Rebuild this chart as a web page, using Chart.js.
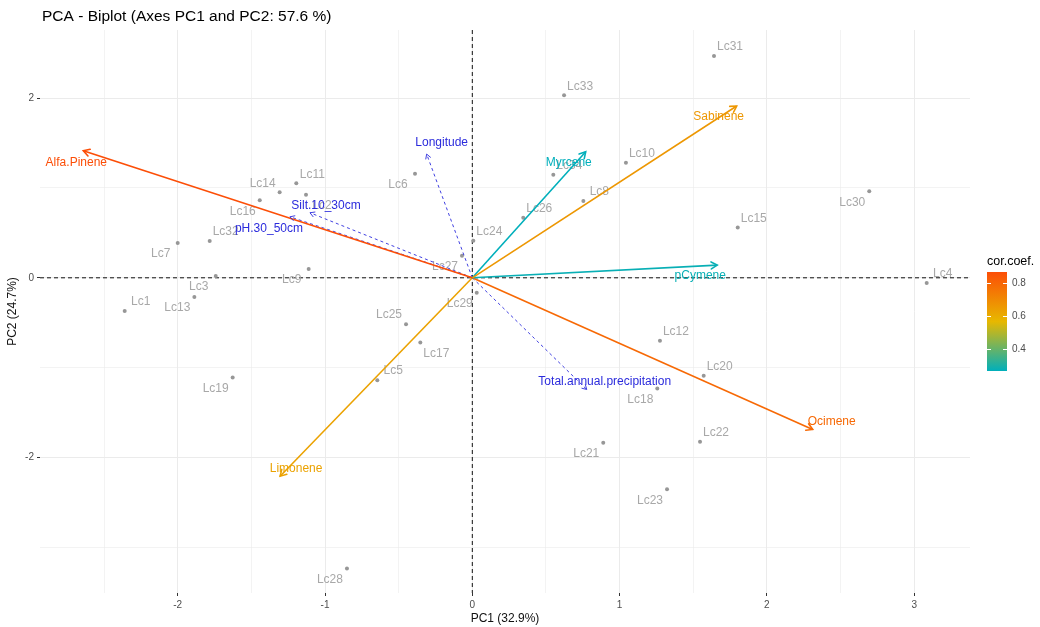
<!DOCTYPE html>
<html>
<head>
<meta charset="utf-8">
<title>PCA - Biplot</title>
<script src="https://cdn.jsdelivr.net/npm/chart.js@4.4.0/dist/chart.umd.min.js"></script>
<style>
  html, body { margin: 0; padding: 0; background: #fff; }
  #wrap { width: 1040px; height: 627px; }
</style>
</head>
<body>
<div id="wrap"><canvas id="biplot" width="1040" height="627"></canvas></div>
<script>
// individuals (PC1, PC2)
const individuals = ['Lc1','Lc2','Lc3','Lc4','Lc5','Lc6','Lc7','Lc8','Lc9','Lc10','Lc11','Lc12',
  'Lc13','Lc14','Lc15','Lc16','Lc17','Lc18','Lc19','Lc20','Lc21','Lc22','Lc23','Lc24','Lc25',
  'Lc26','Lc27','Lc28','Lc29','Lc30','Lc31','Lc32','Lc33','Lc34'];
const indPC1 = [-2.36, -1.129, -1.742, 3.085, -0.645, -0.389, -2.0, 0.754, -1.111, 1.043, -1.195, 1.274,
  -1.887, -1.308, 1.802, -1.443, -0.353, 1.256, -1.627, 1.571, 0.889, 1.546, 1.322, 0.007, -0.45,
  0.346, -0.07, -0.851, 0.03, 2.695, 1.641, -1.783, 0.623, 0.55];
const indPC2 = [-0.37, 0.924, 0.019, -0.059, -1.139, 1.158, 0.386, 0.854, 0.097, 1.281, 1.051, -0.701,
  -0.215, 0.951, 0.561, 0.862, -0.72, -1.232, -1.109, -1.091, -1.837, -1.826, -2.353, 0.412, -0.516,
  0.668, 0.245, -3.236, -0.167, 0.962, 2.469, 0.409, 2.031, 1.147];
const indLabelSide = ['UR','LR','LL','UR','UR','LL','LL','UR','LL','UR','UR','UR',
  'LL','UL','UR','LL','LR','LL','LL','UR','LL','UR','LL','UR','UL',
  'UR','LL','LL','LL','LL','UR','UR','UR','UR'];

// active variables
const varNames = ['Alfa.Pinene', 'Sabinene', 'Myrcene', 'pCymene', 'Ocimene', 'Limonene'];
const varPC1 = [-2.641, 1.795, 0.77, 1.663, 2.311, -1.305];
const varPC2 = [1.414, 1.912, 1.403, 0.141, -1.688, -2.208];
const varCor = [0.866, 0.66, 0.27, 0.28, 0.79, 0.63];

// supplementary variables
const supNames = ['Longitude', 'Silt.10_30cm', 'pH.30_50cm', 'Total.annual.precipitation'];
const supPC1 = [-0.31, -1.102, -1.238, 0.777];
const supPC2 = [1.377, 0.724, 0.679, -1.243];

const xTickLabels = [-2, -1, 0, 1, 2, 3];
const yTickLabels = [-2, 0, 2];
const xGridValues = [-2.5, -2, -1.5, -1, -0.5, 0, 0.5, 1, 1.5, 2, 2.5, 3];
const yGridValues = [-3, -2, -1, 0, 1, 2];
const corBreaks = [0.4, 0.6, 0.8];
const corRange = [0.27, 0.866];
const gradientCols = ['#00AFBB', '#E7B800', '#FC4E07'];

const FONT = '"Liberation Sans", Arial, sans-serif';
const sideNudge = { UR: [16, -9], LL: [-17, 11], UL: [-17, -9], LR: [16, 11] };
const varLabelNudge = [[-7, 12], [-18, 11], [-17, 11], [-17, 11], [19, -8], [16, -8]];
const supLabelNudge = [[15, -11], [16, -7], [-21, 12], [18, -8]];
const supColor = '#2b2bdc';

function hexToRgb(h) {
  return [parseInt(h.slice(1, 3), 16), parseInt(h.slice(3, 5), 16), parseInt(h.slice(5, 7), 16)];
}

function corColor(v) {
  let t = (v - corRange[0]) / (corRange[1] - corRange[0]);
  t = Math.max(0, Math.min(1, t));
  const seg = t < 0.5 ? 0 : 1;
  const lt = seg === 0 ? t / 0.5 : (t - 0.5) / 0.5;
  const a = hexToRgb(gradientCols[seg]);
  const b = hexToRgb(gradientCols[seg + 1]);
  const c = a.map((ch, k) => Math.round(ch + (b[k] - ch) * lt));
  return `rgb(${c[0]},${c[1]},${c[2]})`;
}

function drawHead(ctx, x1, y1, x2, y2, len) {
  const ang = Math.atan2(y2 - y1, x2 - x1);
  ctx.beginPath();
  ctx.moveTo(x2 - len * Math.cos(ang - Math.PI / 6), y2 - len * Math.sin(ang - Math.PI / 6));
  ctx.lineTo(x2, y2);
  ctx.lineTo(x2 - len * Math.cos(ang + Math.PI / 6), y2 - len * Math.sin(ang + Math.PI / 6));
  ctx.stroke();
}

const datasets = [];
datasets.push({
  label: 'individuals',
  data: individuals.map((n, i) => ({ x: indPC1[i], y: indPC2[i] })),
  pointRadius: 2,
  pointBackgroundColor: '#979797',
  pointBorderWidth: 0,
  showLine: false,
  order: 10
});
varNames.forEach((n, i) => {
  datasets.push({
    label: n,
    data: [{ x: 0, y: 0 }, { x: varPC1[i], y: varPC2[i] }],
    showLine: true,
    borderColor: corColor(varCor[i]),
    borderWidth: 1.6,
    pointRadius: 0,
    order: 1
  });
});
supNames.forEach((n, i) => {
  datasets.push({
    label: n,
    data: [{ x: 0, y: 0 }, { x: supPC1[i], y: supPC2[i] }],
    showLine: true,
    borderColor: supColor,
    borderWidth: 0.9,
    borderDash: [3, 3],
    pointRadius: 0,
    order: 2
  });
});

const biplotDecor = {
  id: 'biplotDecor',
  beforeDatasetsDraw(chart) {
    const { ctx, chartArea: a, scales: { x, y } } = chart;
    ctx.save();
    const x0 = x.getPixelForValue(0), y0 = y.getPixelForValue(0);
    ctx.strokeStyle = '#111';
    ctx.lineWidth = 1;
    ctx.setLineDash([4, 3]);
    ctx.beginPath();
    ctx.moveTo(a.left, y0); ctx.lineTo(a.right, y0);
    ctx.moveTo(x0, a.top); ctx.lineTo(x0, a.bottom);
    ctx.stroke();
    ctx.setLineDash([]);

    ctx.font = '12px ' + FONT;
    ctx.fillStyle = '#a8a8a8';
    ctx.textAlign = 'center';
    ctx.textBaseline = 'middle';
    individuals.forEach((name, i) => {
      const n = sideNudge[indLabelSide[i]];
      ctx.fillText(name, x.getPixelForValue(indPC1[i]) + n[0], y.getPixelForValue(indPC2[i]) + n[1]);
    });
    ctx.restore();
  },
  afterDatasetsDraw(chart) {
    const { ctx, scales: { x, y } } = chart;
    const x0 = x.getPixelForValue(0), y0 = y.getPixelForValue(0);
    ctx.save();
    ctx.lineCap = 'round';
    ctx.textAlign = 'center';
    ctx.textBaseline = 'middle';
    ctx.font = '12px ' + FONT;

    supNames.forEach((n, i) => {
      const px = x.getPixelForValue(supPC1[i]), py = y.getPixelForValue(supPC2[i]);
      ctx.strokeStyle = supColor;
      ctx.lineWidth = 0.9;
      drawHead(ctx, x0, y0, px, py, 5);
      ctx.fillStyle = supColor;
      ctx.fillText(n, px + supLabelNudge[i][0], py + supLabelNudge[i][1]);
    });

    varNames.forEach((n, i) => {
      const px = x.getPixelForValue(varPC1[i]), py = y.getPixelForValue(varPC2[i]);
      const col = corColor(varCor[i]);
      ctx.strokeStyle = col;
      ctx.lineWidth = 1.6;
      drawHead(ctx, x0, y0, px, py, 7);
      ctx.fillStyle = col;
      ctx.fillText(n, px + varLabelNudge[i][0], py + varLabelNudge[i][1]);
    });
    ctx.restore();
  },
  afterDraw(chart) {
    const ctx = chart.ctx;
    ctx.save();
    // title
    ctx.font = '15.5px ' + FONT;
    ctx.fillStyle = '#000';
    ctx.textAlign = 'left';
    ctx.textBaseline = 'middle';
    ctx.fillText('PCA - Biplot (Axes PC1 and PC2: 57.6 %)', 42, 17);

    // colour bar legend
    const bl = 987, bw = 20, bt = 272, bb = 371;
    const toY = v => bb - (v - corRange[0]) / (corRange[1] - corRange[0]) * (bb - bt);
    const g = ctx.createLinearGradient(0, bb, 0, bt);
    gradientCols.forEach((c, k) => g.addColorStop(k / (gradientCols.length - 1), c));
    ctx.fillStyle = g;
    ctx.fillRect(bl, bt, bw, bb - bt);

    ctx.strokeStyle = '#fff';
    ctx.lineWidth = 1;
    ctx.font = '10px ' + FONT;
    ctx.fillStyle = '#4d4d4d';
    corBreaks.forEach(v => {
      const ty = Math.round(toY(v)) + 0.5;
      ctx.beginPath();
      ctx.moveTo(bl, ty); ctx.lineTo(bl + 4, ty);
      ctx.moveTo(bl + bw - 4, ty); ctx.lineTo(bl + bw, ty);
      ctx.stroke();
      ctx.fillText(v.toFixed(1), bl + bw + 5, ty);
    });
    ctx.font = '12.5px ' + FONT;
    ctx.fillStyle = '#000';
    ctx.fillText('cor.coef.', bl, 262);
    ctx.restore();
  }
};

const gridColor = '#ebebeb';

new Chart(document.getElementById('biplot'), {
  type: 'scatter',
  data: { datasets: datasets },
  plugins: [biplotDecor],
  options: {
    responsive: false,
    animation: false,
    devicePixelRatio: 1,
    layout: { padding: { top: 30, right: 70, left: 0, bottom: 0 } },
    plugins: { legend: { display: false }, tooltip: { enabled: false }, title: { display: false } },
    scales: {
      x: {
        type: 'linear',
        min: -2.935,
        max: 3.379,
        afterBuildTicks: s => { s.ticks = xGridValues.map(v => ({ value: v })); },
        afterFit: s => { s.height = 34; },
        border: { display: false },
        grid: {
          color: gridColor,
          lineWidth: c => (xTickLabels.includes(c.tick.value) ? 1 : 0.6),
          tickLength: 3,
          tickColor: c => (xTickLabels.includes(c.tick.value) ? '#333' : 'rgba(0,0,0,0)')
        },
        ticks: {
          autoSkip: false,
          maxRotation: 0,
          padding: 3,
          color: '#4d4d4d',
          font: { family: FONT, size: 10 },
          callback: v => (xTickLabels.includes(v) ? String(v) : '')
        },
        title: {
          display: true,
          text: 'PC1 (32.9%)',
          color: '#111',
          font: { family: FONT, size: 12 },
          padding: { top: 0, bottom: 1 }
        }
      },
      y: {
        type: 'linear',
        min: -3.508,
        max: 2.758,
        afterBuildTicks: s => { s.ticks = yGridValues.map(v => ({ value: v })); },
        afterFit: s => { s.width = 40; },
        border: { display: false },
        grid: {
          color: gridColor,
          lineWidth: c => (yTickLabels.includes(c.tick.value) ? 1 : 0.6),
          tickLength: 3,
          tickColor: c => (yTickLabels.includes(c.tick.value) ? '#333' : 'rgba(0,0,0,0)')
        },
        ticks: {
          autoSkip: false,
          padding: 3,
          color: '#4d4d4d',
          font: { family: FONT, size: 10 },
          callback: v => (yTickLabels.includes(v) ? String(v) : '')
        },
        title: {
          display: true,
          text: 'PC2 (24.7%)',
          color: '#111',
          font: { family: FONT, size: 12 },
          padding: { top: 5, bottom: 0 }
        }
      }
    }
  }
});
</script>
</body>
</html>
